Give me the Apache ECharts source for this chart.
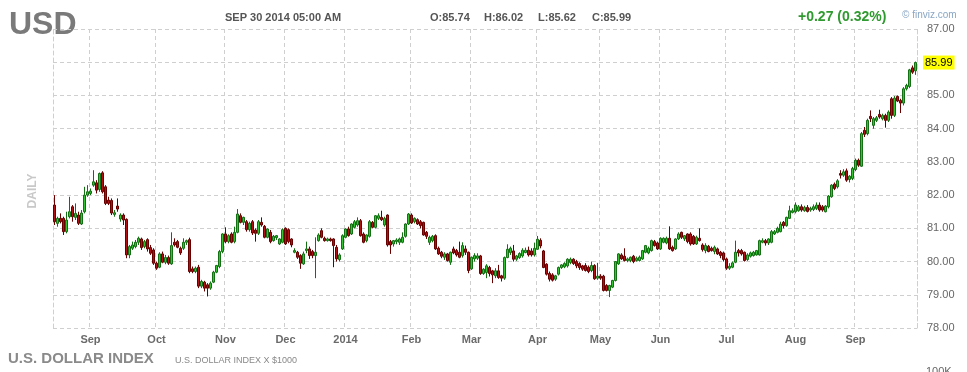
<!DOCTYPE html>
<html>
<head>
<meta charset="utf-8">
<script src="https://cdn.jsdelivr.net/npm/echarts@6/dist/echarts.min.js"></script>
<style>
html,body{margin:0;padding:0;background:#fff;}
#chart{width:967px;height:372px;}
</style>
</head>
<body>
<div id="chart"></div>
<script>
// Month labels shown on the time axis and number of daily candles in each month
const monthNames = ['Aug','Sep','Oct','Nov','Dec','2014','Feb','Mar','Apr','May','Jun','Jul','Aug','Sep'];
const monthDays  = [12,22,23,20,20,22,20,22,21,20,22,23,20,21];

// Daily candles: [open, high, low, close]
const ohlc = [
[81.7,82.0,81.1,81.2],[81.15,81.35,81.05,81.3],[81.3,81.45,81.15,81.2],[81.3,81.35,80.8,80.9],
[80.9,81.5,80.85,81.25],[81.35,81.95,81.3,81.5],[81.65,81.7,81.2,81.35],[81.33,81.75,81.25,81.45],
[81.4,81.5,81.1,81.15],[81.13,81.55,81.1,81.46],[81.5,82.25,81.45,82.0],[82.0,82.3,81.95,82.1],
[82.05,82.2,82.0,82.12],[82.3,82.75,82.25,82.4],[82.37,82.45,82.05,82.15],[82.17,82.68,82.1,82.65],
[82.67,82.72,82.05,82.1],[82.25,82.3,81.7,81.75],[81.85,81.95,81.7,81.75],[81.84,81.9,81.4,81.46],
[81.42,81.55,81.35,81.47],[81.67,81.9,81.5,81.58],[81.28,81.45,81.2,81.4],[81.4,81.45,81.1,81.25],
[81.27,81.3,80.1,80.2],[80.2,80.5,80.1,80.45],[80.4,80.6,80.35,80.5],[80.45,80.65,80.4,80.58],
[80.58,80.75,80.5,80.7],[80.68,80.72,80.35,80.42],[80.45,80.65,80.4,80.6],[80.66,80.7,80.3,80.38],
[80.42,80.5,80.2,80.25],[80.35,80.4,79.9,79.95],[79.95,80.0,79.75,79.8],[79.83,80.28,79.8,80.23],
[80.23,80.3,79.95,79.98],[79.98,80.2,79.92,80.12],[80.12,80.18,79.9,79.95],[79.93,80.88,79.9,80.48],
[80.58,80.7,80.45,80.5],[80.6,80.65,80.4,80.43],[80.4,80.45,80.2,80.26],[80.4,80.7,80.35,80.58],
[80.58,80.66,80.5,80.63],[80.66,80.72,79.65,79.7],[79.78,79.85,79.65,79.7],[79.7,79.85,79.65,79.8],
[79.83,79.9,79.2,79.26],[79.26,79.45,79.2,79.4],[79.38,79.42,79.1,79.2],[79.3,79.35,78.95,79.2],
[79.2,79.4,79.15,79.35],[79.38,79.72,79.35,79.68],[79.68,79.9,79.65,79.88],[79.85,80.35,79.8,80.3],
[80.3,80.85,80.25,80.83],[80.83,81.03,80.55,80.6],[80.6,80.82,80.55,80.78],[80.83,80.88,80.55,80.58],
[80.6,81.05,80.55,80.88],[80.88,81.58,80.85,81.43],[81.38,81.45,81.15,81.18],[81.18,81.35,81.1,81.33],
[81.2,81.25,80.9,80.96],[80.96,81.2,80.9,81.15],[81.2,81.25,80.8,80.86],[80.95,81.0,80.6,80.85],
[80.85,81.25,80.8,81.2],[81.18,81.33,81.05,81.1],[81.06,81.1,80.7,80.73],[80.73,81.0,80.7,80.98],
[80.88,80.95,80.55,80.6],[80.63,80.8,80.6,80.76],[80.72,80.8,80.65,80.78],[80.53,80.7,80.5,80.68],
[80.58,81.0,80.55,80.96],[81.0,81.03,80.5,80.53],[80.96,81.0,80.55,80.6],[80.68,80.7,80.43,80.5],
[80.28,80.4,80.25,80.33],[80.28,80.32,80.08,80.13],[80.18,80.22,79.78,79.95],[79.93,80.3,79.9,80.23],
[80.33,80.6,80.25,80.38],[80.38,80.45,80.08,80.18],[80.3,80.35,80.1,80.18],[80.18,80.73,79.5,80.28],
[80.63,80.85,80.6,80.8],[80.93,81.0,80.7,80.73],[80.7,80.75,80.6,80.63],[80.63,80.72,80.6,80.68],
[80.68,80.72,80.6,80.63],[80.68,80.7,79.83,80.48],[80.43,80.5,80.0,80.08],[80.06,80.25,80.0,80.2],
[80.38,80.82,80.35,80.78],[80.73,81.0,80.7,80.98],[80.98,81.05,80.75,80.78],[80.83,81.15,80.8,81.13],
[81.03,81.25,81.0,81.2],[81.1,81.33,81.05,81.23],[81.23,81.28,80.75,80.78],[80.83,80.88,80.55,80.58],
[80.63,80.82,80.58,80.8],[80.76,81.25,80.72,81.2],[81.18,81.22,81.0,81.03],[81.03,81.4,81.0,81.38],
[81.3,81.45,81.25,81.38],[81.33,81.53,81.22,81.26],[81.1,81.35,81.05,81.3],[81.4,81.42,80.45,80.5],
[80.6,80.65,80.23,80.5],[80.53,80.65,80.45,80.63],[80.6,80.7,80.52,80.65],[80.58,80.72,80.5,80.68],
[80.58,80.88,80.55,80.73],[80.76,81.15,80.72,81.13],[81.13,81.46,81.1,81.43],[81.4,81.45,81.13,81.16],
[81.2,81.33,81.15,81.3],[81.26,81.3,81.1,81.13],[81.2,81.25,81.0,81.08],[81.18,81.2,80.78,80.8],
[80.88,80.92,80.68,80.76],[80.58,80.78,80.5,80.73],[80.63,80.8,80.58,80.76],[80.78,80.82,80.35,80.38],
[80.4,80.45,80.2,80.23],[80.28,80.32,80.1,80.16],[80.13,80.28,80.05,80.23],[80.23,80.26,80.0,80.03],
[79.98,80.3,79.9,80.28],[80.38,80.45,80.22,80.26],[80.33,80.38,80.15,80.2],[80.28,80.6,80.1,80.13],
[80.18,80.58,80.12,80.48],[80.38,80.48,80.2,80.28],[80.28,80.3,79.65,79.73],[79.78,80.15,79.75,80.13],
[80.08,80.25,80.0,80.18],[80.1,80.25,80.05,80.17],[80.17,80.2,79.6,79.64],[79.64,79.8,79.6,79.77],
[79.67,79.92,79.5,79.87],[79.82,79.87,79.55,79.64],[79.72,79.75,79.35,79.6],[79.57,79.8,79.5,79.72],
[79.72,79.9,79.48,79.52],[79.57,79.6,79.4,79.5],[79.5,80.15,79.45,80.12],[80.12,80.52,80.1,80.37],
[80.27,80.45,80.2,80.4],[80.32,80.5,80.0,80.07],[80.07,80.2,80.02,80.17],[80.12,80.28,80.08,80.24],
[80.17,80.4,80.12,80.34],[80.27,80.42,80.25,80.34],[80.34,80.45,80.15,80.2],[80.32,80.4,80.15,80.2],
[80.2,80.57,80.15,80.4],[80.37,80.77,80.35,80.67],[80.64,80.7,80.4,80.47],[80.32,80.35,79.8,79.82],
[79.92,79.95,79.58,79.62],[79.64,79.7,79.4,79.47],[79.6,79.65,79.4,79.44],[79.47,79.6,79.42,79.57],
[79.62,79.85,79.58,79.82],[79.82,79.92,79.78,79.9],[79.84,79.98,79.8,79.94],[79.87,80.1,79.82,80.07],
[79.97,80.12,79.92,80.07],[80.07,80.1,79.9,79.94],[80.0,80.05,79.8,79.87],[79.94,79.98,79.75,79.82],
[79.87,79.9,79.72,79.77],[79.88,79.95,79.7,79.73],[79.83,79.88,79.65,79.7],[79.73,80.0,79.68,79.88],
[79.88,79.92,79.45,79.48],[79.5,79.96,79.45,79.56],[79.56,79.62,79.45,79.5],[79.56,79.6,79.1,79.13],
[79.28,79.32,79.1,79.13],[79.13,79.3,78.93,79.28],[79.23,79.45,79.2,79.43],[79.43,80.0,79.4,80.0],
[79.93,80.25,79.9,80.23],[80.2,80.25,80.05,80.08],[80.16,80.4,80.0,80.03],[80.03,80.12,79.98,80.08],
[80.03,80.15,79.98,80.13],[80.16,80.2,79.95,80.0],[80.03,80.15,80.0,80.1],[80.03,80.18,80.0,80.13],
[80.08,80.35,80.05,80.33],[80.28,80.5,80.25,80.48],[80.26,80.45,80.22,80.4],[80.33,80.66,80.3,80.63],
[80.6,80.65,80.45,80.48],[80.56,80.6,80.35,80.38],[80.38,80.73,80.35,80.7],[80.58,80.73,80.55,80.7],
[80.56,80.75,80.52,80.7],[80.7,81.06,80.35,80.38],[80.43,80.48,80.3,80.33],[80.38,80.7,80.35,80.68],
[80.68,80.88,80.65,80.83],[80.88,80.9,80.68,80.73],[80.68,80.8,80.62,80.78],[80.83,80.85,80.55,80.6],
[80.83,80.88,80.48,80.53],[80.76,80.8,80.5,80.53],[80.53,80.78,80.5,80.73],[80.7,81.0,80.6,80.63],
[80.5,80.55,80.3,80.36],[80.33,80.55,80.25,80.48],[80.46,80.5,80.28,80.3],[80.4,80.45,80.3,80.33],
[80.3,80.48,80.22,80.43],[80.38,80.42,80.2,80.23],[80.28,80.32,80.1,80.18],[80.26,80.3,80.0,80.06],
[80.08,80.12,79.75,79.8],[79.8,79.95,79.75,79.86],[79.83,80.0,79.8,79.96],[79.98,80.63,79.95,80.28],
[80.33,80.38,80.15,80.26],[80.33,80.38,80.18,80.23],[80.28,80.3,80.0,80.03],[80.06,80.25,80.02,80.2],
[80.16,80.3,80.12,80.26],[80.18,80.32,80.15,80.28],[80.2,80.35,80.18,80.33],[80.2,80.66,80.18,80.63],
[80.58,80.7,80.55,80.63],[80.63,80.68,80.48,80.56],[80.56,80.7,80.5,80.68],[80.58,80.95,80.55,80.9],
[80.83,80.95,80.8,80.9],[80.88,81.05,80.85,81.0],[80.9,81.2,80.88,81.13],[81.18,81.22,81.0,81.08],
[81.08,81.35,81.05,81.33],[81.3,81.68,81.28,81.53],[81.48,81.6,81.45,81.53],
[81.5,81.78,81.45,81.7],[81.53,81.7,81.5,81.65],[81.65,81.72,81.5,81.55],[81.53,81.68,81.5,81.63],
[81.63,81.7,81.48,81.51],[81.55,81.65,81.5,81.6],[81.57,81.72,81.52,81.65],[81.6,81.78,81.55,81.7],
[81.7,81.78,81.5,81.55],[81.65,81.7,81.5,81.55],[81.5,81.7,81.48,81.67],[81.65,82.0,81.6,81.97],
[81.95,82.33,81.92,82.3],[82.33,82.38,82.15,82.2],[82.25,82.48,82.2,82.43],[82.65,82.75,82.5,82.6],
[82.6,82.78,82.55,82.7],[82.73,82.8,82.4,82.45],[82.47,82.6,82.38,82.57],[82.5,82.85,82.45,82.8],
[82.77,83.1,82.72,83.05],[83.05,83.1,82.85,82.9],[82.87,83.9,82.85,83.85],[83.95,84.05,83.75,83.83],
[83.85,84.3,83.8,84.25],[84.37,84.55,84.2,84.3],[84.1,84.35,84.0,84.3],[84.25,84.38,84.2,84.33],
[84.43,84.57,84.3,84.35],[84.3,84.45,84.25,84.4],[84.4,84.45,84.03,84.25],[84.25,84.55,84.2,84.5],
[84.9,84.95,84.3,84.4],[84.4,84.98,84.35,84.92],[84.97,85.0,84.8,84.83],[84.85,84.9,84.47,84.77],
[84.77,85.25,84.7,85.2],[85.2,85.35,85.15,85.3],[85.27,85.8,85.22,85.77],[85.83,85.9,85.65,85.7],
[85.74,86.02,85.62,85.99]
];

// Price axis
const yMin = 78, yMax = 87, yStep = 1;

// Header texts
const ticker = 'USD';
const stamp = 'SEP 30 2014 05:00 AM';
const lastBar = { O: '85.74', H: '86.02', L: '85.62', C: '85.99' };
const change = '+0.27 (0.32%)';

// Build categories from month table
const categories = [];
const monthStart = new Set();
monthNames.forEach((m, mi) => {
  for (let d = 0; d < monthDays[mi]; d++) {
    if (d === 0 && mi > 0) monthStart.add(categories.length);
    categories.push(m + '#' + (d + 1));
  }
});
const isStart = (idx) => monthStart.has(idx);
const lastClose = ohlc[ohlc.length - 1][3];

const FONT = '"Liberation Sans", Arial, Helvetica, sans-serif';
const dash = { color: '#cfcfcf', width: 1, type: [4, 3] };

const chart = echarts.init(document.getElementById('chart'), null, { renderer: 'canvas' });
chart.setOption({
  animation: false,
  backgroundColor: '#ffffff',
  textStyle: { fontFamily: FONT },
  grid: { left: 53, right: 50, top: 29, bottom: 44 },
  xAxis: {
    type: 'category',
    data: categories,
    boundaryGap: true,
    axisLine: { show: false },
    axisTick: { show: false },
    axisLabel: {
      interval: (idx) => isStart(idx),
      formatter: (v) => v.split('#')[0],
      color: '#6a6a6a', fontSize: 11, fontWeight: 'bold', margin: 6, fontFamily: FONT
    },
    splitLine: { show: true, interval: (idx) => isStart(idx), lineStyle: dash }
  },
  yAxis: [{
    type: 'value', position: 'right', min: yMin, max: yMax, interval: yStep,
    axisLine: { show: true, lineStyle: dash },
    axisTick: { show: false },
    axisLabel: {
      formatter: (v) => (v === 86 ? '' : v.toFixed(2)),
      color: '#666', fontSize: 11, margin: 10, fontFamily: FONT
    },
    splitLine: { show: true, lineStyle: dash }
  }, {
    type: 'value', position: 'left', min: yMin, max: yMax, interval: yStep,
    axisLine: { show: true, lineStyle: dash },
    axisTick: { show: false }, axisLabel: { show: false }, splitLine: { show: false }
  }],
  series: [{
    type: 'candlestick',
    yAxisIndex: 0,
    barWidth: 2,
    data: ohlc.map(r => [r[0], r[3], r[2], r[1]]),
    itemStyle: {
      color: '#33c433', color0: '#b50f16',
      borderColor: '#137013', borderColor0: '#680000', borderWidth: 1
    },
    markLine: {
      silent: true, symbol: ['none', 'none'],
      lineStyle: { color: 'rgba(0,0,0,0)', width: 0, type: 'solid' },
      label: {
        show: true, position: 'end', distance: 6, opacity: 1,
        formatter: () => lastClose.toFixed(2),
        backgroundColor: '#ffff00', color: '#000', fontSize: 11,
        padding: [2, 2, 1, 2], fontFamily: FONT
      },
      data: [{ yAxis: lastClose }]
    }
  }],
  graphic: [
    { type: 'text', left: 9, top: 9, style: { text: ticker, fill: '#7a7a7a', font: 'bold 32px ' + FONT } },
    { type: 'text', left: 225, top: 12, style: { text: stamp, fill: '#555', font: 'bold 11px ' + FONT } },
    { type: 'text', left: 430, top: 12, style: { text: 'O:' + lastBar.O, fill: '#555', font: 'bold 11px ' + FONT } },
    { type: 'text', left: 484, top: 12, style: { text: 'H:' + lastBar.H, fill: '#555', font: 'bold 11px ' + FONT } },
    { type: 'text', left: 538, top: 12, style: { text: 'L:' + lastBar.L, fill: '#555', font: 'bold 11px ' + FONT } },
    { type: 'text', left: 592, top: 12, style: { text: 'C:' + lastBar.C, fill: '#555', font: 'bold 11px ' + FONT } },
    { type: 'text', left: 798, top: 10, style: { text: change, fill: '#2f9a2f', font: 'bold 14px ' + FONT } },
    { type: 'text', left: 902, top: 10, style: { text: '\u00A9 finviz.com', fill: '#8aa6c4', font: '10px ' + FONT } },
    { type: 'text', x: 33, y: 191, rotation: Math.PI / 2,
      style: { text: 'DAILY', fill: '#c8c8c8', font: 'bold 12px ' + FONT, textAlign: 'center', textVerticalAlign: 'middle' } },
    { type: 'text', left: 8, top: 351, style: { text: 'U.S. DOLLAR INDEX', fill: '#8a8a8a', font: 'bold 15px ' + FONT } },
    { type: 'text', left: 175, top: 356, style: { text: 'U.S. DOLLAR INDEX X $1000', fill: '#888', font: '9px ' + FONT } },
    { type: 'text', left: 926, top: 366, style: { text: '100K', fill: '#666', font: '11px ' + FONT } }
  ]
});
</script>
</body>
</html>
